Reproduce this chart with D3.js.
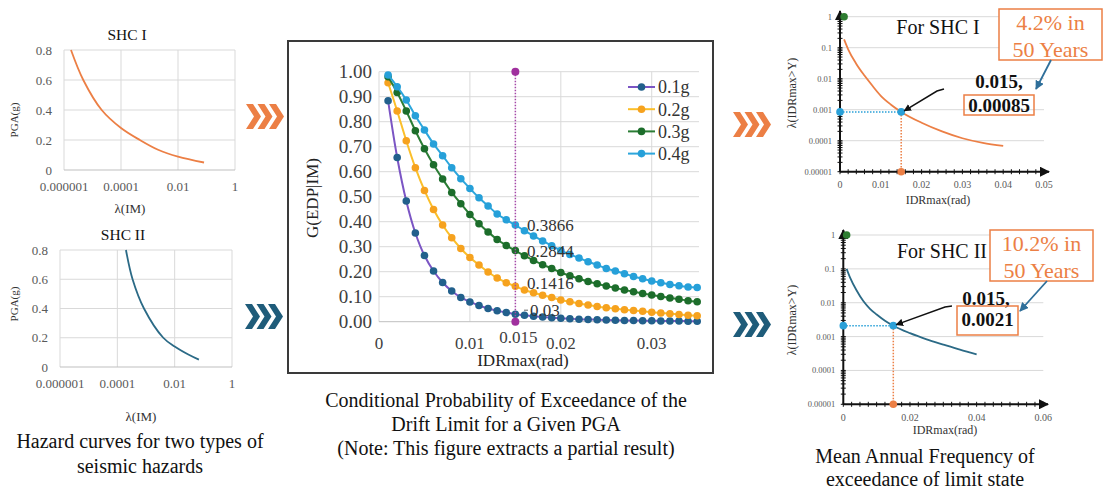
<!DOCTYPE html>
<html>
<head>
<meta charset="utf-8">
<script src="https://cdn.jsdelivr.net/npm/d3@7"></script>
<style>
  body { margin: 0; background: #fff; }
  svg { display: block; }
  text { font-family: "Liberation Serif", "Times New Roman", serif; }
</style>
</head>
<body>
<svg id="fig" width="1113" height="492"></svg>
<script>
// ---------- Seismic hazard curves (PGA vs annual rate) ----------
const shc1Lambda = [1.76e-6, 4.75e-6, 2.1e-5, 1e-4, 4.6e-4, 2e-3, 1e-2, 0.082];
const shc1Pga    = [0.8, 0.6, 0.4, 0.28, 0.2, 0.135, 0.089, 0.05];
const shc2Lambda = [2e-4, 3.4e-4, 8.5e-4, 4e-3, 1e-2, 3e-2, 0.07];
const shc2Pga    = [0.8, 0.6, 0.4, 0.2, 0.14, 0.085, 0.05];
const hazardXTicks  = [1e-6, 1e-4, 1e-2, 1];
const hazardXLabels = ["0.000001", "0.0001", "0.01", "1"];
const hazardYTicks  = [0, 0.2, 0.4, 0.6, 0.8];

// ---------- Fragility: P(IDRmax > y | PGA) ----------
const driftSteps = [0.001, 0.002, 0.003, 0.004, 0.005, 0.006, 0.007, 0.008, 0.009, 0.010,
                    0.011, 0.012, 0.013, 0.014, 0.015, 0.016, 0.017, 0.018, 0.019, 0.020,
                    0.021, 0.022, 0.023, 0.024, 0.025, 0.026, 0.027, 0.028, 0.029, 0.030,
                    0.031, 0.032, 0.033, 0.034, 0.035];
const pga01 = [0.884, 0.657, 0.483, 0.355, 0.265, 0.203, 0.157, 0.123, 0.097, 0.079,
               0.065, 0.053, 0.044, 0.037, 0.03, 0.026, 0.022, 0.019, 0.016, 0.014,
               0.012, 0.010, 0.009, 0.008, 0.007, 0.006, 0.005, 0.005, 0.004, 0.004,
               0.003, 0.003, 0.003, 0.002, 0.002];
const pga02 = [0.956, 0.843, 0.724, 0.616, 0.525, 0.449, 0.387, 0.336, 0.293, 0.257,
               0.227, 0.199, 0.175, 0.156, 0.1416, 0.127, 0.116, 0.106, 0.097, 0.087,
               0.080, 0.073, 0.067, 0.061, 0.056, 0.052, 0.048, 0.045, 0.042, 0.038,
               0.035, 0.032, 0.029, 0.026, 0.024];
const pga03 = [0.98, 0.917, 0.843, 0.764, 0.692, 0.628, 0.571, 0.517, 0.472, 0.429,
               0.392, 0.359, 0.329, 0.305, 0.2844, 0.264, 0.245, 0.228, 0.213, 0.197,
               0.184, 0.172, 0.161, 0.152, 0.143, 0.135, 0.127, 0.12, 0.113, 0.107,
               0.101, 0.095, 0.09, 0.084, 0.08];
const pga04 = [0.987, 0.94, 0.887, 0.824, 0.767, 0.711, 0.664, 0.616, 0.572, 0.533,
               0.496, 0.463, 0.431, 0.408, 0.3866, 0.364, 0.343, 0.323, 0.304, 0.285,
               0.269, 0.255, 0.24, 0.227, 0.213, 0.203, 0.192, 0.181, 0.172, 0.163,
               0.156, 0.149, 0.144, 0.139, 0.137];
const seriesNames = ["0.1g", "0.2g", "0.3g", "0.4g"];
const fragYTicks = [0, 0.1, 0.2, 0.3, 0.4, 0.5, 0.6, 0.7, 0.8, 0.9, 1.0];
const fragXTicks = [0, 0.01, 0.02, 0.03];
const limitDrift = 0.015;
const limitLabels = ["0.3866", "0.2844", "0.1416", "0.03"];

// ---------- Mean annual frequency of exceedance ----------
const mafDrift = [0.001, 0.002, 0.004, 0.006, 0.008, 0.01, 0.0125, 0.015, 0.02, 0.025, 0.03, 0.035, 0.04];
const maf1 = [0.186, 0.089, 0.030, 0.0126, 0.0058, 0.0028, 0.00145, 0.00085, 0.00038, 0.0002, 0.00012, 0.000085, 0.000068];
const maf2 = [0.1, 0.056, 0.0229, 0.0112, 0.0066, 0.0045, 0.00295, 0.0021, 0.00126, 0.00083, 0.00058, 0.00041, 0.0003];
const mafYTicks  = [1, 0.1, 0.01, 0.001, 0.0001, 0.00001];
const mafYLabels = ["1", "0.1", "0.01", "0.001", "0.0001", "0.00001"];
const maf1XTicks = [0, 0.01, 0.02, 0.03, 0.04, 0.05];
const maf2XTicks = [0, 0.02, 0.04, 0.06];
const limitMafLabels = ["0.00085", "0.0021"];
const probLines = [["4.2% in", "50 Years"], ["10.2% in", "50 Years"]];

// ---------- palette ----------
const ORANGE = "#ec7f45";
const TEAL = "#2b6a86";
const GRID = "#d9d9d9";
const TICK = "#595959";

const svg = d3.select("#fig");

const defs = svg.append("defs");
function arrowMarker(id, color) {
  defs.append("marker").attr("id", id)
    .attr("viewBox", "0 0 10 10").attr("refX", 9).attr("refY", 5)
    .attr("markerWidth", 5).attr("markerHeight", 5).attr("orient", "auto")
    .append("path").attr("d", "M0,0 L10,5 L0,10 Z").attr("fill", color);
}
arrowMarker("arrBlack", "#111");
arrowMarker("arrBlue", "#2f6f9a");
arrowMarker("arrAxis", "#111");

// ---------- left: hazard curves ----------
function hazardChart(o) {
  const g = svg.append("g");
  const x = d3.scaleLog().domain([1e-6, 1]).range([o.left, o.right]);
  const y = d3.scaleLinear().domain([0, 0.8]).range([o.bottom, o.top]);
  g.selectAll(".hg").data(hazardYTicks.slice(1)).join("line")
    .attr("x1", o.left).attr("x2", o.right).attr("y1", d => y(d)).attr("y2", d => y(d))
    .attr("stroke", GRID).attr("stroke-width", 1);
  g.selectAll(".vg").data(hazardXTicks).join("line")
    .attr("x1", d => x(d)).attr("x2", d => x(d)).attr("y1", o.top).attr("y2", o.bottom)
    .attr("stroke", GRID).attr("stroke-width", 1);
  g.append("line").attr("x1", o.left).attr("x2", o.right).attr("y1", y(0)).attr("y2", y(0))
    .attr("stroke", "#bfbfbf").attr("stroke-width", 1);
  g.selectAll(".yl").data(hazardYTicks).join("text")
    .attr("x", o.left - 12).attr("y", d => y(d)).attr("dy", "0.35em")
    .attr("text-anchor", "end").attr("font-size", 13).attr("fill", TICK)
    .text(d => d === 0 ? "0" : d3.format(".1f")(d));
  g.selectAll(".xl").data(hazardXTicks).join("text")
    .attr("x", d => x(d)).attr("y", o.bottom + 16).attr("dy", "0.35em")
    .attr("text-anchor", "middle").attr("font-size", 13).attr("fill", TICK)
    .text((d, i) => hazardXLabels[i]);
  g.append("text").attr("x", o.titleX).attr("y", o.top - 15).attr("dy", "0.35em")
    .attr("text-anchor", "middle").attr("font-size", 15.5).attr("fill", "#111").text(o.title);
  g.append("text").attr("transform", `translate(14,${o.yTitleY}) rotate(-90)`)
    .attr("dy", "0.35em").attr("text-anchor", "middle").attr("font-size", 11).attr("fill", "#333")
    .text("PGA(g)");
  g.append("text").attr("x", o.xTitleX).attr("y", o.xTitleY).attr("dy", "0.35em")
    .attr("text-anchor", "middle").attr("font-size", 13).attr("fill", "#333").text("λ(IM)");
  const pts = o.lambda.map((l, i) => [l, o.pga[i]]);
  g.append("path").datum(pts)
    .attr("d", d3.line().x(d => x(d[0])).y(d => y(d[1])).curve(d3.curveCatmullRom.alpha(0.5)))
    .attr("fill", "none").attr("stroke", o.color).attr("stroke-width", 1.8);
}
hazardChart({ left: 64, right: 235, top: 50, bottom: 170, title: "SHC I", titleX: 127,
  yTitleY: 120, xTitleX: 130, xTitleY: 208, lambda: shc1Lambda, pga: shc1Pga, color: ORANGE });
hazardChart({ left: 60, right: 232, top: 250, bottom: 367, title: "SHC II", titleX: 123,
  yTitleY: 304, xTitleX: 141, xTitleY: 416, lambda: shc2Lambda, pga: shc2Pga, color: TEAL });

function caption(lines, cx, y0, step) {
  svg.append("g").selectAll("text").data(lines).join("text")
    .attr("x", cx).attr("y", (d, i) => y0 + i * step).attr("dy", "0.35em")
    .attr("text-anchor", "middle").attr("font-size", 20).attr("fill", "#111").text(d => d);
}
caption(["Hazard curves for two types of", "seismic hazards"], 140, 441, 25);

// ---------- chevrons ----------
function chevrons(x0, y0, color) {
  const g = svg.append("g").attr("transform", `translate(${x0},${y0})`);
  [0, 11.5, 23].forEach(dx => {
    g.append("polygon")
      .attr("points", [[dx, 0], [dx + 7, 0], [dx + 15, 12.5], [dx + 7, 25], [dx, 25], [dx + 8, 12.5]].map(p => p.join(",")).join(" "))
      .attr("fill", color);
  });
}
chevrons(246, 104, ORANGE);
chevrons(245, 304, "#1f5c7a");
chevrons(733, 112, ORANGE);
chevrons(733, 312, "#1f5c7a");

// ---------- middle: fragility curves ----------
{
  const g = svg.append("g");
  g.append("rect").attr("x", 288).attr("y", 41).attr("width", 425).attr("height", 332)
    .attr("fill", "#fff").attr("stroke", "#3a3a3a").attr("stroke-width", 2);
  const x = d3.scaleLinear().domain([0, 0.0352]).range([379, 699]);
  const y = d3.scaleLinear().domain([0, 1]).range([321.7, 71.7]);
  g.selectAll(".hg").data(fragYTicks.slice(1)).join("line")
    .attr("x1", x(0)).attr("x2", x(0.0352)).attr("y1", d => y(d)).attr("y2", d => y(d))
    .attr("stroke", GRID);
  g.selectAll(".vg").data(fragXTicks).join("line")
    .attr("x1", d => x(d)).attr("x2", d => x(d)).attr("y1", y(1)).attr("y2", y(0))
    .attr("stroke", GRID);
  g.append("line").attr("x1", x(0)).attr("x2", x(0.0352)).attr("y1", y(0)).attr("y2", y(0))
    .attr("stroke", "#bfbfbf");
  g.selectAll(".yl").data(fragYTicks).join("text")
    .attr("x", 372).attr("y", d => y(d)).attr("dy", "0.35em").attr("text-anchor", "end")
    .attr("font-size", 19).attr("fill", "#404040").text(d => d3.format(".2f")(d));
  g.selectAll(".xl").data(fragXTicks).join("text")
    .attr("x", d => x(d)).attr("y", 343).attr("dy", "0.35em").attr("text-anchor", "middle")
    .attr("font-size", 17).attr("fill", "#404040").text(d => d === 0 ? "0" : String(d));
  g.append("text").attr("x", x(limitDrift) + 3).attr("y", 337).attr("dy", "0.35em")
    .attr("text-anchor", "middle").attr("font-size", 17).attr("fill", "#404040").text("0.015");
  g.append("text").attr("x", 523).attr("y", 360).attr("dy", "0.35em").attr("text-anchor", "middle")
    .attr("font-size", 17).attr("fill", "#222").text("IDRmax(rad)");
  g.append("text").attr("transform", "translate(312,198) rotate(-90)").attr("dy", "0.35em")
    .attr("text-anchor", "middle").attr("font-size", 17).attr("fill", "#222").text("G(EDP|IM)");

  const series = [
    { name: seriesNames[0], vals: pga01, line: "#7b55c4", mark: "#22608c" },
    { name: seriesNames[1], vals: pga02, line: "#fbbf2a", mark: "#f6a21e" },
    { name: seriesNames[2], vals: pga03, line: "#2b7d35", mark: "#1c6d2b" },
    { name: seriesNames[3], vals: pga04, line: "#2ca6dc", mark: "#26a0d9" }
  ];
  const line = d3.line().x(d => x(d[0])).y(d => y(d[1])).curve(d3.curveCatmullRom);
  series.forEach(s => {
    const pts = driftSteps.map((d, i) => [d, s.vals[i]]);
    g.append("path").datum(pts).attr("d", line).attr("fill", "none")
      .attr("stroke", s.line).attr("stroke-width", 2);
    g.selectAll(null).data(pts).join("circle")
      .attr("cx", d => x(d[0])).attr("cy", d => y(d[1])).attr("r", 3.8).attr("fill", s.mark);
  });

  // limit-state drift marker
  g.append("line").attr("x1", x(limitDrift)).attr("x2", x(limitDrift)).attr("y1", y(1)).attr("y2", y(0))
    .attr("stroke", "#a548a8").attr("stroke-width", 1.5).attr("stroke-dasharray", "1.5,1.5");
  g.selectAll(null).data([0, 1]).join("circle")
    .attr("cx", x(limitDrift)).attr("cy", d => y(d)).attr("r", 4).attr("fill", "#a0309e");

  const atLimit = driftSteps.indexOf(limitDrift);
  const labelVals = [pga04[atLimit], pga03[atLimit], pga02[atLimit], pga01[atLimit]];
  const labelDy = [0, 0, -3, -4];
  g.selectAll(".vl").data(labelVals).join("text")
    .attr("x", (d, i) => i === 3 ? 530 : 527).attr("y", (d, i) => y(d) + labelDy[i]).attr("dy", "0.35em")
    .attr("font-size", 17).attr("fill", "#333").text((d, i) => limitLabels[i]);
  g.append("line").attr("x1", 524).attr("x2", 528).attr("y1", y(pga01[atLimit]) - 4).attr("y2", y(pga01[atLimit]) - 4)
    .attr("stroke", "#666").attr("stroke-width", 1);

  // legend
  const lg = g.append("g");
  series.forEach((s, i) => {
    const ly = 87 + i * 22.2;
    lg.append("line").attr("x1", 628).attr("x2", 655).attr("y1", ly).attr("y2", ly)
      .attr("stroke", s.line).attr("stroke-width", 2);
    lg.append("circle").attr("cx", 641.5).attr("cy", ly).attr("r", 3.8).attr("fill", s.mark);
    lg.append("text").attr("x", 658).attr("y", ly).attr("dy", "0.35em")
      .attr("font-size", 18).attr("fill", "#333").text(s.name);
  });
}
caption(["Conditional Probability of Exceedance of the", "Drift Limit for a Given PGA",
         "(Note: This figure extracts a partial result)"], 506, 400, 24.2);

// ---------- right: mean annual frequency ----------
function mafChart(o) {
  const g = svg.append("g");
  const x = d3.scaleLinear().domain([0, o.xTicks[o.xTicks.length - 1]]).range([o.left, o.right]);
  const y = d3.scaleLog().domain([1e-5, 1]).range([o.bottom, o.top]);
  g.selectAll(".hg").data(mafYTicks.slice(0, -1)).join("line")
    .attr("x1", o.left).attr("x2", o.right).attr("y1", d => y(d)).attr("y2", d => y(d))
    .attr("stroke", GRID);
  // minor ticks
  const minorY = [];
  for (let e = -5; e < 0; e++) for (let m = 1; m < 10; m++) minorY.push(m * Math.pow(10, e));
  g.selectAll(".my").data(minorY).join("line")
    .attr("x1", o.left - 2.5).attr("x2", o.left + 2.5).attr("y1", d => y(d)).attr("y2", d => y(d))
    .attr("stroke", "#111").attr("stroke-width", 1);
  const minorX = d3.range(0, x.domain()[1] + 1e-9, o.minorStep);
  g.selectAll(".mx").data(minorX).join("line")
    .attr("x1", d => x(d)).attr("x2", d => x(d)).attr("y1", o.bottom - 2.5).attr("y2", o.bottom + 2.5)
    .attr("stroke", "#111").attr("stroke-width", 1);
  // axes with arrow heads
  g.append("line").attr("x1", o.left).attr("x2", o.arrowX).attr("y1", o.bottom).attr("y2", o.bottom)
    .attr("stroke", "#111").attr("stroke-width", 2).attr("marker-end", "url(#arrAxis)");
  g.append("line").attr("x1", o.left).attr("x2", o.left).attr("y1", o.bottom).attr("y2", o.arrowY)
    .attr("stroke", "#111").attr("stroke-width", 2).attr("marker-end", "url(#arrAxis)");
  g.selectAll(".yl").data(mafYTicks).join("text")
    .attr("x", o.left - 8).attr("y", d => y(d)).attr("dy", "0.35em").attr("text-anchor", "end")
    .attr("font-size", 8.5).attr("fill", TICK).text((d, i) => mafYLabels[i]);
  g.selectAll(".xl").data(o.xTicks).join("text")
    .attr("x", d => x(d)).attr("y", o.bottom + 13).attr("dy", "0.35em").attr("text-anchor", "middle")
    .attr("font-size", 10).attr("fill", TICK).text(d => d === 0 ? "0" : String(d));
  g.append("text").attr("x", o.xTitleX).attr("y", o.xTitleY).attr("dy", "0.35em")
    .attr("text-anchor", "middle").attr("font-size", 12).attr("fill", "#333").text("IDRmax(rad)");
  g.append("text").attr("transform", `translate(792,${o.yTitleY}) rotate(-90)`).attr("dy", "0.35em")
    .attr("text-anchor", "middle").attr("font-size", 12).attr("fill", "#333").text("λ(IDRmax>Y)");

  const pts = mafDrift.map((d, i) => [d, o.vals[i]]);
  g.append("path").datum(pts)
    .attr("d", d3.line().x(d => x(d[0])).y(d => y(d[1])).curve(d3.curveMonotoneX))
    .attr("fill", "none").attr("stroke", o.color).attr("stroke-width", 1.8);

  const lm = o.vals[mafDrift.indexOf(limitDrift)];
  g.append("line").attr("x1", o.left).attr("x2", x(limitDrift)).attr("y1", y(lm)).attr("y2", y(lm))
    .attr("stroke", "#2aa0d8").attr("stroke-width", 1.5).attr("stroke-dasharray", "1.5,1.5");
  g.append("line").attr("x1", x(limitDrift)).attr("x2", x(limitDrift)).attr("y1", y(lm)).attr("y2", o.bottom)
    .attr("stroke", ORANGE).attr("stroke-width", 1.5).attr("stroke-dasharray", "1.5,1.5");
  g.append("circle").attr("cx", x(0.001)).attr("cy", y(1)).attr("r", 3.8).attr("fill", "#2e7d32");
  g.append("circle").attr("cx", o.left).attr("cy", y(lm)).attr("r", 3.8).attr("fill", "#2aa0d8");
  g.append("circle").attr("cx", x(limitDrift)).attr("cy", y(lm)).attr("r", 3.8).attr("fill", "#2aa0d8");
  g.append("circle").attr("cx", x(limitDrift)).attr("cy", o.bottom).attr("r", 3.8).attr("fill", ORANGE);

  g.append("text").attr("x", o.titleX).attr("y", o.titleY).attr("dy", "0.35em")
    .attr("text-anchor", "middle").attr("font-size", 20).attr("fill", "#111").text(o.title);

  // probability box
  g.append("rect").attr("x", o.pBox[0]).attr("y", o.pBox[1]).attr("width", o.pBox[2]).attr("height", o.pBox[3])
    .attr("fill", "#fff").attr("stroke", ORANGE).attr("stroke-width", 1.5);
  g.selectAll(".pl").data(o.prob).join("text")
    .attr("x", o.pBox[0] + o.pBox[2] / 2).attr("y", (d, i) => o.pBox[1] + 13.5 + i * 26.5).attr("dy", "0.35em")
    .attr("text-anchor", "middle").attr("font-size", 22).attr("fill", ORANGE).text(d => d);

  // coordinate annotation
  g.append("text").attr("x", o.coordX).attr("y", o.coordY).attr("dy", "0.35em")
    .attr("text-anchor", "middle").attr("font-size", 19).attr("font-weight", "bold").attr("fill", "#111").text("0.015,");
  g.append("rect").attr("x", o.vBox[0]).attr("y", o.vBox[1]).attr("width", o.vBox[2]).attr("height", o.vBox[3])
    .attr("fill", "none").attr("stroke", ORANGE).attr("stroke-width", 1.5);
  g.append("text").attr("x", o.vBox[0] + o.vBox[2] / 2).attr("y", o.vBox[1] + o.vBox[3] / 2 + o.vShift).attr("dy", "0.35em")
    .attr("text-anchor", "middle").attr("font-size", 19).attr("font-weight", "bold").attr("fill", "#111").text(o.valueLabel);

  // pointers
  g.append("path").attr("d", `M${o.blackArrow[0]}L${o.blackArrow[1]}L${x(limitDrift) + 3},${y(lm) - 1}`)
    .attr("fill", "none").attr("stroke", "#111").attr("stroke-width", 1.5).attr("marker-end", "url(#arrBlack)");
  g.append("path").attr("d", `M${o.blueArrow[0]}L${o.blueArrow[1]}`)
    .attr("fill", "none").attr("stroke", "#2f6f9a").attr("stroke-width", 1.8).attr("marker-end", "url(#arrBlue)");
}
mafChart({ left: 840, right: 1044, top: 16.7, bottom: 171.7, arrowX: 1049, arrowY: 11,
  xTicks: maf1XTicks, minorStep: 0.002, vals: maf1, color: ORANGE,
  xTitleX: 938, xTitleY: 200, yTitleY: 93, title: "For SHC I", titleX: 938, titleY: 26.7,
  pBox: [999, 9, 103, 51], prob: probLines[0],
  coordX: 999, coordY: 81, vBox: [964, 95, 70, 20], vShift: 0, valueLabel: limitMafLabels[0],
  blackArrow: ["944,89", "937,91"], blueArrow: ["1051,60", "1036,89"] });
mafChart({ left: 843.3, right: 1043.3, top: 235, bottom: 404.3, arrowX: 1048, arrowY: 230,
  xTicks: maf2XTicks, minorStep: 0.0025, vals: maf2, color: TEAL,
  xTitleX: 945, xTitleY: 430, yTitleY: 320, title: "For SHC II", titleX: 942, titleY: 251,
  pBox: [990, 230, 103, 51], prob: probLines[1],
  coordX: 986, coordY: 298, vBox: [957, 306, 61, 29], vShift: -1, valueLabel: limitMafLabels[1],
  blackArrow: ["952,306", "945,307"], blueArrow: ["1047,281", "1020,311"] });

caption(["Mean Annual Frequency of", "exceedance of limit state"], 925, 456, 22.5);
</script>
</body>
</html>
